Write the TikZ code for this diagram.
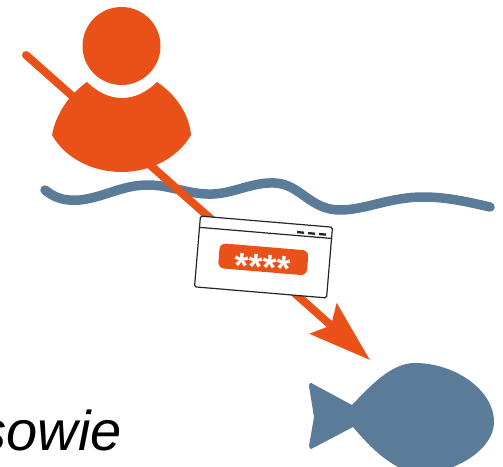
\documentclass[tikz,border=0pt]{standalone}
\usepackage{fontspec}
\setmainfont{Liberation Sans}
\usepackage{xcolor}
\usetikzlibrary{arrows.meta,calc}
\definecolor{signalred}{HTML}{EA5119}
\definecolor{fishblue}{HTML}{5A7C99}

\begin{document}
\begin{tikzpicture}[
  x=1pt, y=-1pt,
  >=Stealth,
  headdisc/.style={circle, fill=signalred, minimum size=78pt, inner sep=0pt},
  wave/.style={draw=fishblue, line width=9.5pt, line cap=round},
  thrust/.style={draw=signalred, line width=8pt, line cap=round,
    -{Stealth[length=62pt, width=40pt, inset=10pt]}},
  loginbox/.style={rectangle, draw=black!85, fill=white, line width=1.2pt, rounded corners=1.5pt,
    minimum width=132.5pt, minimum height=71pt, inner sep=0pt, rotate=-4.8},
  pill/.style={rectangle, fill=signalred, rounded corners=6pt, text=white, font=\bfseries\fontsize{36}{36}\selectfont,
    minimum width=89pt, minimum height=25pt, inner sep=0pt, rotate=-4.8},
  winbtn/.style={line width=2.3pt, draw=black!85},
]
\useasboundingbox (0,0) rectangle (503,466);

% Water line
\draw[wave] (45,190) .. controls (56,199) and (66,201) .. (80,200)
  .. controls (105,197) and (122,185) .. (148,185)
  .. controls (170,185) and (190,195) .. (213,194)
  .. controls (235,193) and (252,182) .. (275,183)
  .. controls (300,184) and (310,210) .. (340,210)
  .. controls (365,210) and (390,197) .. (423,197)
  .. controls (447,197) and (468,202) .. (490,207);

% Attack line
\coordinate (start) at (26,55);
\coordinate (tip) at (370,360);
\draw[thrust] (start) -- (tip);

% Person
\node[headdisc] (head) at (121.5,46) {};
\fill[signalred] (87,82) .. controls (97,92) and (109,98) .. (122,98)
  .. controls (135,98) and (147,92) .. (157,82)
  .. controls (175,94) and (189,113) .. (191,135)
  .. controls (178,158) and (150,172) .. (122,172)
  .. controls (92,172) and (65,158) .. (52,135)
  .. controls (56,113) and (70,94) .. (87,82) -- cycle;

% Login window
\node[loginbox] (login) at (263.5,257) {};
\draw[line width=1.2pt, draw=black!85] ($(login.north west)!0.165!(login.south west)$)
  -- ($(login.north east)!0.165!(login.south east)$);
\draw[winbtn] ($(login.north east)+(-36,5.5)$) -- +(7,0.6);
\draw[winbtn] ($(login.north east)+(-25,6.5)$) -- +(7,0.6);
\draw[winbtn] ($(login.north east)+(-14,7.4)$) -- +(7,0.6);
\node[pill] (secret) at (263.3,259.3) {\raisebox{-20.5pt}[0pt][0pt]{****}};

% Fish
\fill[fishblue] (352,405) .. controls (372,384) and (392,363) .. (415,363)
  .. controls (455,363) and (494,390) .. (494,422)
  .. controls (494,448) and (460,470) .. (425,474)
  .. controls (395,474) and (370,447) .. (353,427)
  -- (313,448) .. controls (310,450) and (309,448) .. (309,446)
  -- (314,417) -- (309,386) .. controls (309,383) and (311,382) .. (313,384) -- cycle;

% Caption
\node[anchor=base east, inner sep=0pt, font=\itshape\fontsize{56}{56}\selectfont] (caption) at (122,450) {sowie};

\end{tikzpicture}
\end{document}
